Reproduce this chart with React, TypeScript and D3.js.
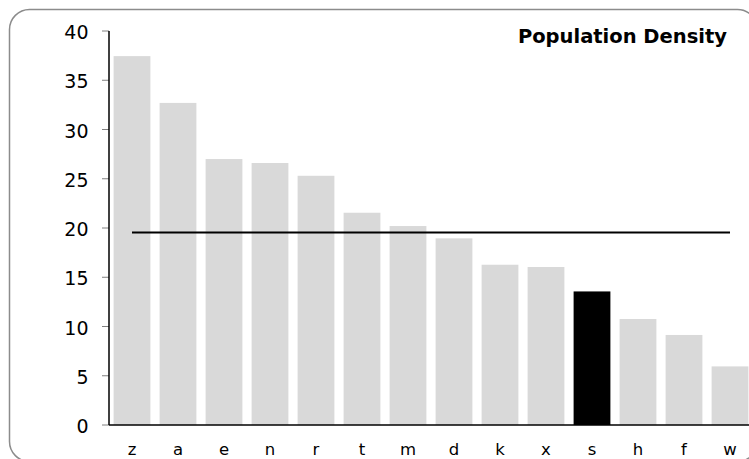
import React from "react";
import * as d3 from "d3";

const categories = ["z", "a", "e", "n", "r", "t", "m", "d", "k", "x", "s", "h", "f", "w"];
const values = [37.45, 32.7, 27.0, 26.6, 25.3, 21.55, 20.2, 18.95, 16.27, 16.04, 13.56, 10.76, 9.14, 5.95];
const highlighted = ["s"];
const averageValue = [19.55];
const yTicks = [0, 5, 10, 15, 20, 25, 30, 35, 40];
const title = "Population Density";

const W = 749;
const H = 459;
const margin = { left: 109, right: -4, top: 31, bottom: 34 };

export default function App() {
  const x = d3
    .scaleBand<string>()
    .domain(categories)
    .range([margin.left, W - margin.right])
    .paddingInner(0.2)
    .paddingOuter(0.1);
  const y = d3.scaleLinear().domain([0, 40]).range([H - margin.bottom, margin.top]);
  const first = categories[0];
  const last = categories[categories.length - 1];
  const lineX1 = (x(first) ?? 0) + x.bandwidth() / 2;
  const lineX2 = (x(last) ?? 0) + x.bandwidth() / 2;
  const font = "Verdana, 'DejaVu Sans', sans-serif";
  return (
    <svg
      width={W}
      height={H}
      style={{ position: "absolute", left: 0, top: 0, display: "block" }}
    >
      <rect x={0} y={0} width={W} height={H} fill="#fff" />
      <rect
        x={9.5}
        y={9.5}
        width={748}
        height={452}
        rx={20}
        ry={20}
        fill="none"
        stroke="#8c8c8c"
        strokeWidth={1.5}
      />
      {categories.map((c, i) => (
        <rect
          key={c}
          x={x(c)}
          y={y(values[i])}
          width={x.bandwidth()}
          height={y(0) - y(values[i])}
          fill={highlighted.includes(c) ? "#000" : "#d9d9d9"}
        />
      ))}
      <line
        x1={lineX1}
        x2={lineX2}
        y1={y(averageValue[0])}
        y2={y(averageValue[0])}
        stroke="#000"
        strokeWidth={2}
      />
      {yTicks.map((t) => (
        <g key={t}>
          <line
            x1={margin.left - 7}
            x2={margin.left}
            y1={y(t)}
            y2={y(t)}
            stroke="#808080"
            strokeWidth={1}
          />
          <text
            x={margin.left - 20.5}
            y={y(t) + 8}
            textAnchor="end"
            fontFamily={font}
            fontSize={19}
            fill="#000"
          >
            {t}
          </text>
        </g>
      ))}
      <line x1={margin.left} x2={margin.left} y1={y(40)} y2={y(0)} stroke="#000" strokeWidth={1.5} />
      <line x1={margin.left} x2={W} y1={y(0)} y2={y(0)} stroke="#000" strokeWidth={1.5} />
      {categories.map((c) => (
        <text
          key={"l" + c}
          x={(x(c) ?? 0) + x.bandwidth() / 2}
          y={454.5}
          textAnchor="middle"
          fontFamily={font}
          fontSize={16.5}
          fill="#000"
        >
          {c}
        </text>
      ))}
      <text
        x={727}
        y={43}
        textAnchor="end"
        fontFamily={font}
        fontSize={19.5}
        fontWeight="bold"
        fill="#000"
      >
        {title}
      </text>
    </svg>
  );
}
